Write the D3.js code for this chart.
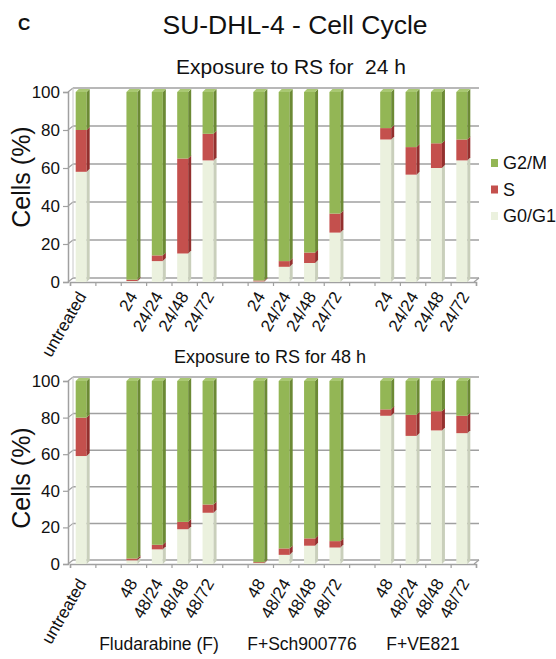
<!DOCTYPE html>
<html>
<head>
<meta charset="utf-8">
<script src="https://cdn.jsdelivr.net/npm/d3@7"></script>
<style>
  body { margin: 0; background: #fff; }
  text { font-family: "Liberation Sans", Arial, sans-serif; fill: #111; }
</style>
</head>
<body>
<svg id="chart"></svg>
<script>
// data (percent of cells)
var groupNames = ["Fludarabine (F)", "F+Sch900776", "F+VE821"];
var labels24 = ["untreated", "24", "24/24", "24/48", "24/72", "24", "24/24", "24/48", "24/72", "24", "24/24", "24/48", "24/72"];
var g0_24 = [58, 0.5, 11, 15, 64, 0.3, 8, 10, 26, 75, 56.5, 60, 64];
var s_24 = [22, 0.7, 3, 50, 14, 0.5, 3, 5.5, 10, 6, 14.5, 13, 11];
var labels48 = ["untreated", "48", "48/24", "48/48", "48/72", "48", "48/24", "48/48", "48/72", "48", "48/24", "48/48", "48/72"];
var g0_48 = [59, 2, 8, 19, 28, 0.5, 5, 10, 9, 81, 70, 73, 71.5];
var s_48 = [21, 1, 2.5, 4, 4.5, 0.5, 3.5, 4, 3.5, 3.5, 11.5, 10.5, 9.5];
var phases = ["G2/M", "S", "G0/G1"];
var yTicks = [0, 20, 40, 60, 80, 100];

var W = 556, H = 659;
var colors = { "G0/G1": "#ebf1de", "S": "#c4504d", "G2/M": "#93b655" };
var sideColors = { "G0/G1": "#c9cfbb", "S": "#93302e", "G2/M": "#6c8a35" };
var topColors = { "G0/G1": "#f4f8ec", "S": "#d07370", "G2/M": "#a9c872" };

var svg = d3.select('#chart').attr('width', W).attr('height', H);

// slot positions: untreated, gap, 4 bars, gap, 4 bars, gap, 4 bars
function slotOf(i) { return i === 0 ? 0 : i + 1 + Math.floor((i - 1) / 4); }
var xLeft = 68, xRight = 474;
var xScale = d3.scaleBand().domain(d3.range(16)).range([xLeft + 2, xRight + 2]);
var xEdge = d3.scaleLinear().domain([0, 16]).range([xLeft + 2, xRight + 2]);

svg.append('text').attr('x', 18).attr('y', 30)
    .style('font-weight', 'bold').style('font-size', '17px').text('C');
svg.append('text').attr('x', 295).attr('y', 34).attr('text-anchor', 'middle')
    .style('font-size', '26.5px').text('SU-DHL-4 - Cell Cycle');

function drawPanel(opt) {
    var g = svg.append('g');
    var yScale = d3.scaleLinear().domain([0, 100]).range([opt.y0, opt.y100]);
    var dx = 5, dy = 4;

    // back wall gridlines
    g.selectAll('.grid').data(yTicks).enter().append('line')
        .attr('x1', xLeft + dx).attr('x2', xRight + dx)
        .attr('y1', function(d) { return yScale(d) - dy; })
        .attr('y2', function(d) { return yScale(d) - dy; })
        .attr('stroke', '#a0a0a0').attr('stroke-width', 1.5);
    g.selectAll('.slant').data(yTicks).enter().append('line')
        .attr('x1', xLeft).attr('x2', xLeft + dx)
        .attr('y1', function(d) { return yScale(d); })
        .attr('y2', function(d) { return yScale(d) - dy; })
        .attr('stroke', '#a0a0a0').attr('stroke-width', 1.2);
    // back wall edge and floor
    g.append('line').attr('x1', xLeft + dx).attr('x2', xLeft + dx)
        .attr('y1', yScale(100) - dy).attr('y2', yScale(0) - dy)
        .attr('stroke', '#c8c8c8');
    g.append('line').attr('x1', xRight).attr('x2', xRight + dx)
        .attr('y1', yScale(0)).attr('y2', yScale(0) - dy)
        .attr('stroke', '#a0a0a0').attr('stroke-width', 1.2);

    // y axis
    var yAxis = d3.axisLeft(yScale).tickValues(yTicks).tickSize(5).tickPadding(3);
    var gy = g.append('g').attr('transform', 'translate(' + xLeft + ',0)').call(yAxis);
    gy.select('.domain').attr('stroke', '#a0a0a0').attr('stroke-width', 1.5);
    gy.selectAll('.tick line').attr('stroke', '#a0a0a0').attr('stroke-width', 1.2);
    gy.selectAll('.tick text').style('font-size', '17px')
        .style('font-family', '"Liberation Sans", Arial, sans-serif').attr('fill', '#222');

    // x axis
    var xAxis = d3.axisBottom(xEdge).tickValues(d3.range(17)).tickSize(4).tickFormat('');
    var gx = g.append('g').attr('transform', 'translate(0,' + yScale(0) + ')').call(xAxis);
    gx.select('.domain').attr('stroke', '#a0a0a0').attr('stroke-width', 1.5);
    gx.selectAll('.tick line').attr('stroke', '#a0a0a0').attr('stroke-width', 1.2);

    // stacked bars
    var rows = opt.labels.map(function(l, i) {
        return { i: i, label: l, slot: slotOf(i), "G0/G1": opt.g0[i], "S": opt.s[i], "G2/M": 100 - opt.g0[i] - opt.s[i] };
    });
    var stacked = d3.stack().keys(["G0/G1", "S", "G2/M"])(rows);
    var fw = 11, sw = 3, sh = 3;
    stacked.forEach(function(layer) {
        var key = layer.key;
        var lg = g.append('g').attr('class', 'layer');
        layer.forEach(function(d) {
            if (d[1] - d[0] <= 0) return;
            var c = xScale(d.data.slot) + xScale.bandwidth() / 2;
            var x0 = c - 7, x1 = x0 + fw;
            var yt = yScale(d[1]), yb = yScale(d[0]);
            lg.append('rect').attr('x', x0).attr('y', yt).attr('width', fw).attr('height', yb - yt)
                .attr('fill', colors[key]);
            lg.append('polygon')
                .attr('points', [[x1, yt], [x1 + sw, yt - sh], [x1 + sw, yb - sh], [x1, yb]].join(' '))
                .attr('fill', sideColors[key]);
            if (key === "G2/M") {
                lg.append('polygon')
                    .attr('points', [[x0, yt], [x0 + sw, yt - sh], [x1 + sw, yt - sh], [x1, yt]].join(' '))
                    .attr('fill', topColors[key]);
            }
        });
    });

    // x tick labels
    var labelX = d3.scaleLinear().domain([0, 15]).range([87, 470]);
    g.selectAll('.xlab').data(rows).enter().append('text')
        .attr('text-anchor', 'end')
        .attr('transform', function(d) {
            return 'translate(' + labelX(d.slot) + ',' + (yScale(0) + opt.labelDy) + ') rotate(-60)';
        })
        .style('font-size', '17px')
        .text(function(d) { return d.label; });

    // panel title
    g.append('text').attr('x', opt.titleX).attr('y', opt.titleY).attr('text-anchor', 'middle')
        .style('font-size', opt.titleSize).style('white-space', 'pre').text(opt.title);

    // y label
    g.append('text').attr('transform', 'translate(30,' + opt.yLabelY + ') rotate(-90)')
        .attr('text-anchor', 'middle').style('font-size', '25px').text('Cells (%)');
}

drawPanel({ labels: labels24, g0: g0_24, s: s_24, y0: 282, y100: 92, labelDy: 14,
    title: 'Exposure to RS for  24 h', titleSize: '21px', titleX: 291, titleY: 74, yLabelY: 177 });
drawPanel({ labels: labels48, g0: g0_48, s: s_48, y0: 564, y100: 381, labelDy: 19,
    title: 'Exposure to RS for 48 h', titleSize: '18px', titleX: 270, titleY: 363, yLabelY: 478 });

// legend
var legend = svg.append('g');
phases.forEach(function(p, i) {
    var yy = 163 + i * 26.5;
    legend.append('rect').attr('x', 491).attr('y', yy - 4).attr('width', 7).attr('height', 8)
        .attr('fill', colors[p]);
    legend.append('text').attr('x', 503).attr('y', yy + 6).style('font-size', '18px').text(p);
});

// treatment group labels
var groupCenters = [159, 302, 423];
svg.selectAll('.grp').data(groupNames).enter().append('text')
    .attr('x', function(d, i) { return groupCenters[i]; })
    .attr('y', 650).attr('text-anchor', 'middle').style('font-size', '17.5px')
    .text(function(d) { return d; });
</script>
</body>
</html>
